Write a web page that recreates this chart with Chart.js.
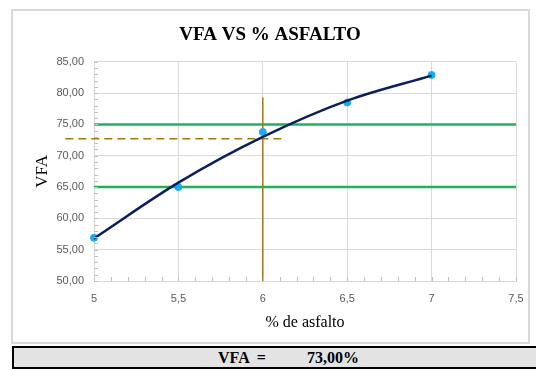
<!DOCTYPE html>
<html>
<head>
<meta charset="utf-8">
<script src="https://cdn.jsdelivr.net/npm/chart.js@4.4.0/dist/chart.umd.min.js"></script>
<style>
html,body{margin:0;padding:0;background:#fff;width:536px;height:370px;overflow:hidden;}
#frame{position:absolute;left:11px;top:9px;width:519px;height:335px;border:2px solid #d9d9d9;box-sizing:border-box;}
#wrap{position:absolute;left:0;top:0;width:536px;height:345px;}
#box{position:absolute;left:12px;top:346px;width:530px;height:23px;background:#e3e3e3;border:2.5px solid #000;box-sizing:border-box;font-family:"Liberation Serif","Times New Roman",serif;font-weight:bold;font-size:16px;color:#000;}
#box span{position:absolute;top:1px;white-space:pre;}
</style>
</head>
<body>
<div id="frame"></div>
<div id="wrap"><canvas id="c" width="536" height="345"></canvas></div>
<div id="box"><span style="left:204px">VFA  =</span><span style="left:293px">73,00%</span></div>
<script>
// Data
const asphaltPct = [5, 5.5, 6, 6.5, 7];
const vfaValues = [56.9, 65.0, 73.8, 78.5, 82.9];
const trendValues = [56.8, 65.7, 73.0, 78.8, 82.8];
const specLow = 65;
const specHigh = 75;
const optimumPct = 6;
const vfaAtOptimum = 72.7;
const verticalTop = 79.3;
const dashStartX = 4.83;
const dashEndX = 6.11;
const xTicks = [5, 5.5, 6, 6.5, 7, 7.5];
const yTicks = [50, 55, 60, 65, 70, 75, 80, 85];

const pts = asphaltPct.map((x, i) => ({x, y: vfaValues[i]}));
const trend = asphaltPct.map((x, i) => ({x, y: trendValues[i]}));

const minorTicks = {
  id: 'minorTicks',
  afterDraw(chart) {
    const ctx = chart.ctx, xs = chart.scales.x, ys = chart.scales.y;
    ctx.save();
    ctx.strokeStyle = '#bfbfbf';
    ctx.lineWidth = 1;
    ctx.beginPath();
    for (let v = 50; v <= 85; v += 1) {
      const py = Math.round(ys.getPixelForValue(v)) + 0.5;
      ctx.moveTo(xs.left, py); ctx.lineTo(xs.left + 4, py);
    }
    for (let k = 50; k <= 75; k += 1) {
      const px = Math.round(xs.getPixelForValue(k / 10)) + 0.5;
      ctx.moveTo(px, ys.bottom); ctx.lineTo(px, ys.bottom - 4);
    }
    ctx.stroke();
    ctx.restore();
  }
};

new Chart(document.getElementById('c'), {
  type: 'scatter',
  data: {
    datasets: [
      {label: 'Límite superior', type: 'line', data: [{x: 5, y: specHigh}, {x: 7.5, y: specHigh}], borderColor: '#1fb25a', borderWidth: 2.5, pointRadius: 0, order: 5},
      {label: 'Límite inferior', type: 'line', data: [{x: 5, y: specLow}, {x: 7.5, y: specLow}], borderColor: '#1fb25a', borderWidth: 2.5, pointRadius: 0, order: 5},
      {label: 'Óptimo', type: 'line', data: [{x: optimumPct, y: 50}, {x: optimumPct, y: verticalTop}], borderColor: '#9c7a14', borderWidth: 1.5, pointRadius: 0, order: 4},
      {label: 'VFA óptimo', type: 'line', data: [{x: dashStartX, y: vfaAtOptimum}, {x: dashEndX, y: vfaAtOptimum}], borderColor: '#9c7a14', borderWidth: 1.5, borderDash: [8, 5], pointRadius: 0, clip: false, order: 4},
      {label: 'Tendencia', type: 'line', data: trend, borderColor: '#0a1f5c', borderWidth: 2.5, pointRadius: 0, tension: 0.4, cubicInterpolationMode: 'monotone', order: 1},
      {label: 'VFA', data: pts, backgroundColor: '#12aef0', borderColor: '#12aef0', pointRadius: 3.5, clip: false, order: 2}
    ]
  },
  options: {
    responsive: false,
    animation: false,
    layout: {padding: {left: 24, right: 20, top: 0, bottom: 0}},
    plugins: {
      legend: {display: false},
      tooltip: {enabled: false},
      title: {
        display: true,
        text: 'VFA VS % ASFALTO',
        color: '#000',
        font: {family: '"Liberation Serif", "Times New Roman", serif', size: 19, weight: 'bold'},
        padding: {top: 24, bottom: 15}
      }
    },
    scales: {
      x: {
        type: 'linear', min: 5, max: 7.5,
        afterBuildTicks(s) { s.ticks = xTicks.map(v => ({value: v})); },
        afterFit(s) { s.height = 64; },
        grid: {color: '#d9d9d9', drawTicks: false},
        border: {color: '#d9d9d9'},
        ticks: {color: '#595959', font: {family: '"Liberation Sans", Arial, sans-serif', size: 11}, padding: 11,
          callback: v => String(v).replace('.', ',')},
        title: {display: true, text: '% de asfalto', color: '#000',
          font: {family: '"Liberation Serif", "Times New Roman", serif', size: 16}, padding: {top: 4, bottom: 13}}
      },
      y: {
        min: 50, max: 85,
        afterBuildTicks(s) { s.ticks = yTicks.map(v => ({value: v})); },
        afterFit(s) { s.width = 70; },
        grid: {color: '#d9d9d9', drawTicks: false},
        border: {color: '#d9d9d9'},
        ticks: {color: '#595959', font: {family: '"Liberation Sans", Arial, sans-serif', size: 11}, padding: 10,
          callback: v => v.toFixed(2).replace('.', ',')},
        title: {display: true, text: 'VFA', color: '#000',
          font: {family: '"Liberation Serif", "Times New Roman", serif', size: 17}, padding: {top: 8, bottom: 4}}
      }
    }
  },
  plugins: [minorTicks]
});
</script>
</body>
</html>
